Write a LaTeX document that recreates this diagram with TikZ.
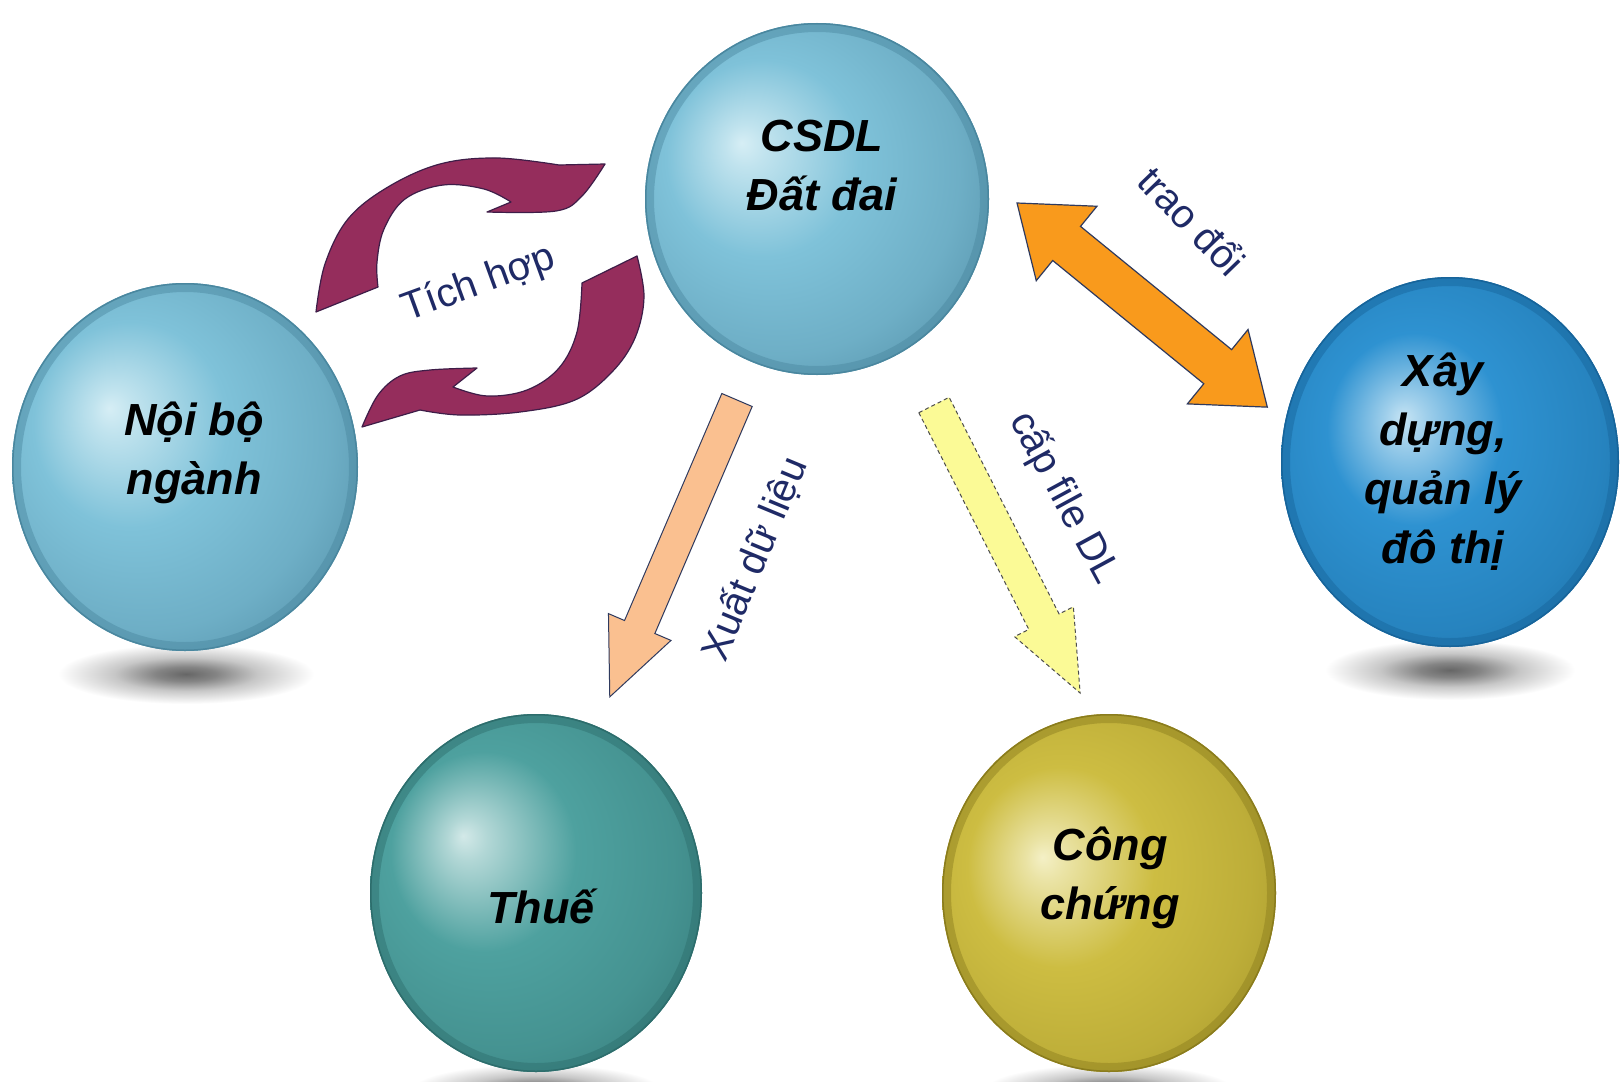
\documentclass[tikz,border=0pt]{standalone}
\usepackage{fontspec}
\setmainfont{Liberation Sans}
\usetikzlibrary{shapes.geometric}

\definecolor{hlA}{HTML}{D6EEF5}
\definecolor{baseA}{HTML}{7FC2D9}
\definecolor{edgeA}{HTML}{4E8AA2}
\definecolor{rimA}{HTML}{4A879F}
\definecolor{hlB}{HTML}{C6E4F4}
\definecolor{baseB}{HTML}{2E92D1}
\definecolor{edgeB}{HTML}{1B6DA3}
\definecolor{rimB}{HTML}{17649A}
\definecolor{hlC}{HTML}{D3E9E8}
\definecolor{baseC}{HTML}{4EA19F}
\definecolor{edgeC}{HTML}{347877}
\definecolor{rimC}{HTML}{2D6D6C}
\definecolor{hlD}{HTML}{F4F0C6}
\definecolor{baseD}{HTML}{CDBD42}
\definecolor{edgeD}{HTML}{A19228}
\definecolor{rimD}{HTML}{8A7C1D}
\definecolor{navy}{HTML}{1F2A66}
\definecolor{arrowred}{HTML}{952D5C}
\definecolor{arrowredline}{HTML}{3E1D48}
\definecolor{orangef}{HTML}{F99A1C}
\definecolor{peachf}{HTML}{FAC090}
\definecolor{yellowf}{HTML}{FBFA96}
\definecolor{outl}{HTML}{2F3A5E}

\pgfdeclareradialshading{shA}{\pgfpoint{-11bp}{8bp}}{color(0bp)=(hlA); color(3bp)=(hlA!75!baseA); color(14bp)=(baseA); color(26bp)=(baseA!65!edgeA); color(38bp)=(edgeA); color(50bp)=(edgeA)}
\pgfdeclareradialshading{shB}{\pgfpoint{-7bp}{6bp}}{color(0bp)=(hlB); color(3bp)=(hlB!75!baseB); color(13bp)=(baseB); color(26bp)=(baseB!60!edgeB); color(36bp)=(edgeB); color(50bp)=(edgeB)}
\pgfdeclareradialshading{shC}{\pgfpoint{-11bp}{8bp}}{color(0bp)=(hlC); color(3bp)=(hlC!75!baseC); color(14bp)=(baseC); color(26bp)=(baseC!65!edgeC); color(38bp)=(edgeC); color(50bp)=(edgeC)}
\pgfdeclareradialshading{shD}{\pgfpoint{-10bp}{5bp}}{color(0bp)=(hlD); color(3bp)=(hlD!75!baseD); color(14bp)=(baseD); color(26bp)=(baseD!65!edgeD); color(38bp)=(edgeD); color(50bp)=(edgeD)}
\pgfdeclareradialshading{shadowsh}{\pgfpointorigin}{color(0bp)=(black!60); color(6bp)=(black!48); color(14bp)=(black!22); color(25bp)=(white); color(50bp)=(white)}

\newcommand\sphfont{\fontsize{45}{59}\selectfont\bfseries\itshape}
\newcommand\lblfont{\fontsize{40}{48}\selectfont}

\newcommand\mysphere[7]{%
  \node[ellipse, inner sep=0pt, outer sep=0pt, minimum width={2*#4}, minimum height={2*#5}, shading=#6] (#1) at (#2,#3) {};
  \draw[#7, line width=9pt, opacity=.45] (#1.center) ellipse [x radius={#4-4.5}, y radius={#5-4.5}];
  \draw[#7, line width=1.5pt] (#1.center) ellipse [x radius={#4-0.75}, y radius={#5-0.75}];
}

\begin{document}
\begin{tikzpicture}[x=1pt,y=-1pt,
  sphtext/.style={font=\sphfont, align=center, inner sep=0pt, text=black},
  lbl/.style={font=\lblfont, text=navy, inner sep=0pt},
  curvarr/.style={fill=arrowred, draw=arrowredline, line width=1.2pt, line join=round},
  shadowst/.style={shading=shadowsh},
  orangearr/.style={fill=orangef, draw=outl, line width=1.2pt, line join=miter},
  peacharr/.style={fill=peachf, draw=outl, line width=1pt},
  yellowarr/.style={fill=yellowf, draw=black!70, line width=1pt, dash pattern=on 4pt off 3pt}]

\useasboundingbox (0,0) rectangle (1624,1081);
\clip (0,0) rectangle (1624,1081);
\fill[white] (0,0) rectangle (1624,1081);

% shadows
\path[shadowst] (186,674) ellipse [x radius=128, y radius=30];
\path[shadowst] (1450,670) ellipse [x radius=125, y radius=30];
\path[shadowst] (536,1090) ellipse [x radius=125, y radius=26];
\path[shadowst] (1109,1090) ellipse [x radius=125, y radius=26];

% spheres
\mysphere{csdl}{817}{199}{172}{176}{shA}{rimA}
\mysphere{noibo}{185}{467}{173}{184}{shA}{rimA}
\mysphere{xaydung}{1450}{462}{169}{185}{shB}{rimB}
\mysphere{thue}{536}{893}{166}{179}{shC}{rimC}
\mysphere{congchung}{1109}{893}{167}{179}{shD}{rimD}

% sphere texts
\node[sphtext] (csdlt) at (822,166) {CSDL\\Đất đai};
\node[sphtext] (noibot) at (194,453) {Nội bộ\\ngành};
\node[sphtext] (xaydungt) at (1443,462) {Xây\\dựng,\\quản lý\\đô thị};
\node[sphtext] (thuet) at (541,906) {Thuế};
\node[sphtext] (congchungt) at (1110,878) {Công\\chứng};

% circular arrows (Tich hop)
\draw[curvarr] plot[smooth, tension=0.6] coordinates {(316,312) (325,264) (348,219) (388,187) (440,164) (497,158) (559,165)}
  -- (605,164)
  -- plot[smooth, tension=0.6] coordinates {(605,164) (582,196) (556,211) (487,212)}
  -- (511,202)
  -- plot[smooth, tension=0.6] coordinates {(511,202) (484,189) (443,185) (405,199) (384,229) (377,262) (378,287)}
  -- cycle;
\draw[curvarr] plot[smooth, tension=0.6] coordinates {(637,256) (644,297) (635,338) (612,372) (575,400) (520,412) (460,415) (420,410)}
  -- (362,427)
  -- plot[smooth, tension=0.6] coordinates {(362,427) (378,395) (400,376) (430,370) (477,368)}
  -- (453,387)
  -- plot[smooth, tension=0.6] coordinates {(453,387) (487,396) (527,390) (559,368) (577,332) (582,283)}
  -- cycle;

% block arrows
\coordinate (orangestart) at (1017,203);
\coordinate (peachtail) at (737,400);
\coordinate (yellowtail) at (934,405);

\begin{scope}[shift={(orangestart)}, rotate=-39.2]
  \draw[orangearr] (0,0) -- (64,48) -- (64,22) -- (259,22) -- (259,48) -- (323,0)
    -- (259,-48) -- (259,-22) -- (64,-22) -- (64,-48) -- cycle;
\end{scope}
\begin{scope}[shift={(peachtail)}, rotate=-113.2]
  \draw[peacharr] (0,16.5) -- (247,16.5) -- (247,34) -- (323,0) -- (247,-34) -- (247,-16.5) -- (0,-16.5) -- cycle;
\end{scope}
\begin{scope}[shift={(yellowtail)}, rotate=-63.1]
  \draw[yellowarr] (0,17) -- (243,17) -- (243,33) -- (323,0) -- (243,-33) -- (243,-17) -- (0,-17) -- cycle;
\end{scope}

% labels
\node[lbl, rotate=20] (tichhop) at (479,284) {Tích hợp};
\node[lbl, rotate=-46] (traodoi) at (1193,220) {trao đổi};
\node[lbl, rotate=67.5] (xuat) at (755,559) {Xuất dữ liệu};
\node[lbl, rotate=-61.5] (capfile) at (1064,498) {cấp file DL};

\end{tikzpicture}
\end{document}
